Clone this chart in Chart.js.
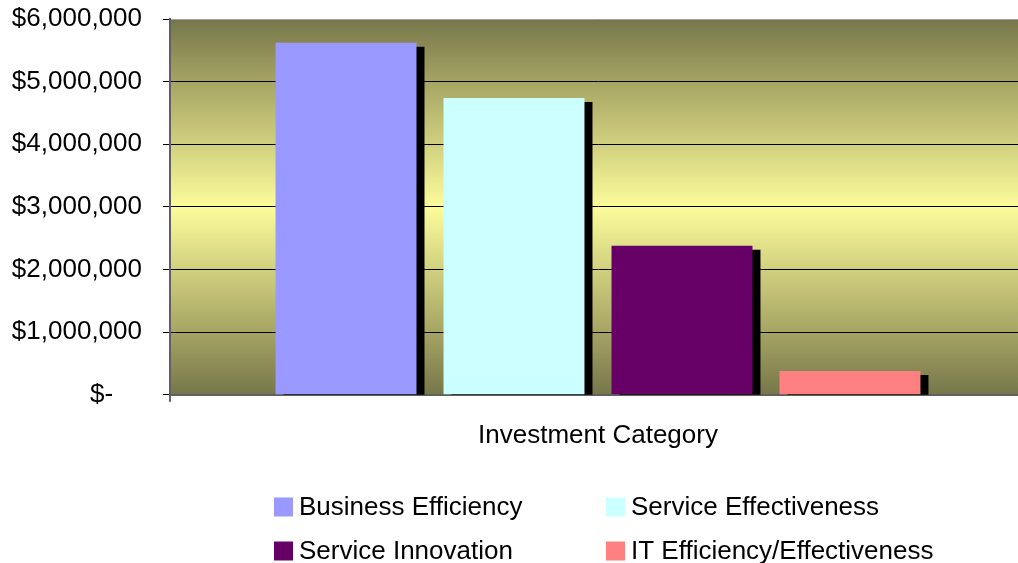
<!DOCTYPE html>
<html>
<head>
<meta charset="utf-8">
<title>Investment Category</title>
<script src="https://cdn.jsdelivr.net/npm/chart.js@4/dist/chart.umd.min.js"></script>
<style>
  html, body { margin: 0; padding: 0; background: #fff; overflow: hidden; }
  canvas { display: block; }
</style>
</head>
<body>
<!-- plot area runs a little past the right edge of the window -->
<canvas id="chart" width="1026" height="563"></canvas>
<script>
// Chart data
const categories = [''];
const seriesNames = [
  'Business Efficiency',
  'Service Effectiveness',
  'Service Innovation',
  'IT Efficiency/Effectiveness'
];
const seriesValues = [5620000, 4740000, 2380000, 380000];
const seriesColors = ['#9999ff', '#ccffff', '#660066', '#ff8080'];
const yTickValues = [0, 1000000, 2000000, 3000000, 4000000, 5000000, 6000000];
const xAxisTitle = 'Investment Category';

const FONT = '"Liberation Sans", Arial, sans-serif';

// Olive-to-yellow band behind the bars.
const plotBackground = {
  id: 'plotBackground',
  beforeDraw(chart) {
    const { ctx, chartArea: a } = chart;
    const g = ctx.createLinearGradient(0, a.top, 0, a.bottom);
    g.addColorStop(0, '#77764a');
    g.addColorStop(0.18, '#a9a866');
    g.addColorStop(0.5, '#fcfc9b');
    g.addColorStop(0.82, '#a9a866');
    g.addColorStop(1, '#77764a');
    ctx.save();
    ctx.fillStyle = g;
    ctx.fillRect(a.left, a.top, a.right - a.left, a.bottom - a.top);
    ctx.restore();
  }
};

// Hard black drop shadow, offset right and down.
const barShadow = {
  id: 'barShadow',
  beforeDatasetsDraw(chart) {
    const ctx = chart.ctx;
    ctx.save();
    ctx.shadowColor = '#000';
    ctx.shadowOffsetX = 8;
    ctx.shadowOffsetY = 4;
    ctx.shadowBlur = 0;
  },
  afterDatasetsDraw(chart) {
    chart.ctx.restore();
  }
};

// Two-column legend under the axis title.
const gridLegend = {
  id: 'gridLegend',
  afterDraw(chart) {
    const ctx = chart.ctx;
    const cols = [274, 606];
    const rows = [507, 551];
    const box = 19;
    ctx.save();
    ctx.font = '26px ' + FONT;
    ctx.textBaseline = 'middle';
    ctx.textAlign = 'left';
    chart.data.datasets.forEach((ds, i) => {
      const x = cols[i % 2];
      const y = rows[Math.floor(i / 2)];
      ctx.fillStyle = ds.backgroundColor;
      ctx.fillRect(x, y - box / 2, box, box);
      ctx.fillStyle = '#000';
      ctx.fillText(ds.label, x + 25, y + 1);
    });
    ctx.restore();
  }
};

const datasets = seriesNames.map((name, i) => ({
  label: name,
  data: [seriesValues[i]],
  backgroundColor: seriesColors[i],
  borderWidth: 0,
  categoryPercentage: 0.785,
  barPercentage: 0.839
}));

Chart.defaults.color = '#000';
Chart.defaults.font.family = FONT;

new Chart(document.getElementById('chart'), {
  type: 'bar',
  data: { labels: categories, datasets: datasets },
  plugins: [plotBackground, barShadow, gridLegend],
  options: {
    responsive: false,
    animation: false,
    devicePixelRatio: 1,
    layout: { padding: { top: 19, right: 0, bottom: 112, left: 0 } },
    plugins: {
      legend: { display: false },
      tooltip: { enabled: false }
    },
    scales: {
      x: {
        type: 'category',
        offset: true,
        ticks: { display: false },
        grid: {
          display: true,
          offset: true,
          drawOnChartArea: false,
          drawTicks: true,
          tickLength: 7,
          color: '#606060',
          lineWidth: 2
        },
        border: { display: true, color: '#606060', width: 2 },
        title: {
          display: true,
          text: xAxisTitle,
          font: { size: 26, family: FONT },
          color: '#000',
          padding: { top: 18, bottom: 0 }
        }
      },
      y: {
        min: 0,
        max: 6000000,
        afterFit(scale) {
          // fixed axis width; the top label may hang over the layout padding
          scale.width = 170;
          scale.paddingTop = 0;
          scale.paddingBottom = 0;
        },
        afterBuildTicks(scale) {
          scale.ticks = yTickValues.map(v => ({ value: v }));
        },
        ticks: {
          padding: 21,
          font: { size: 26, family: FONT },
          color: '#000',
          callback(value) {
            return value === 0 ? '$-    ' : '$' + value.toLocaleString('en-US');
          }
        },
        grid: {
          drawTicks: true,
          tickLength: 7,
          lineWidth: 1,
          color(ctx) {
            return ctx.tick && ctx.tick.value === 6000000 ? '#a0a0a0' : '#000';
          },
          tickColor: '#000'
        },
        border: { display: true, color: '#606060', width: 2 }
      }
    }
  }
});
</script>
</body>
</html>
